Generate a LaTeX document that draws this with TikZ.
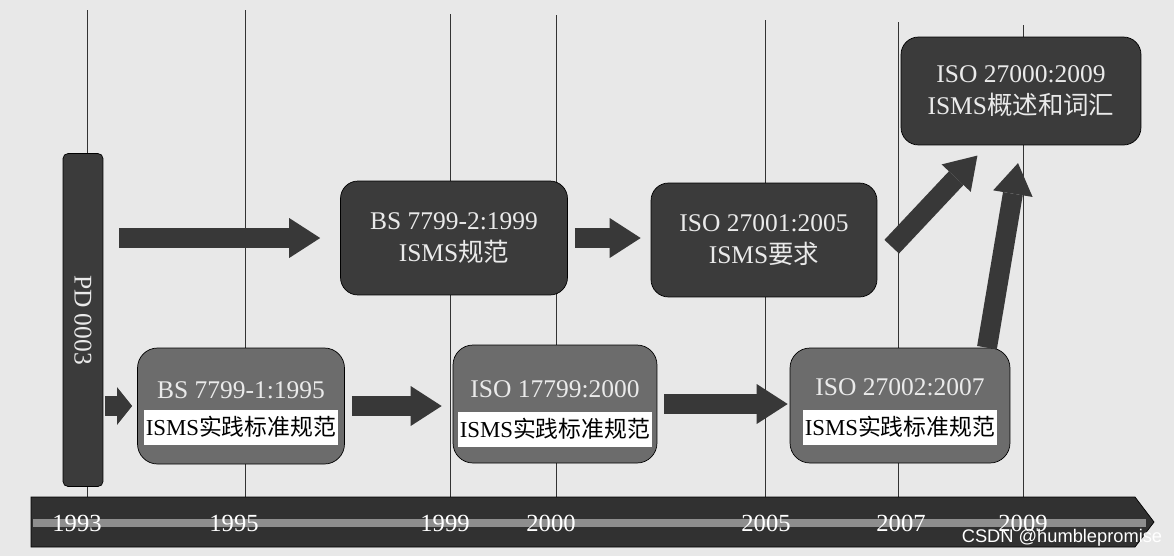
\documentclass[tikz,border=0pt]{standalone}
\usepackage{fontspec}
\setmainfont{Liberation Serif}
\setsansfont{Liberation Sans}
\newfontfamily\cjk{Noto Sans CJK SC}
\usetikzlibrary{arrows.meta}
\definecolor{pagegray}{HTML}{E8E8E8}
\definecolor{boxdark}{HTML}{3B3B3B}
\definecolor{boxmid}{HTML}{6C6C6C}
\definecolor{arrowdark}{HTML}{383838}
\definecolor{bardark}{HTML}{313131}
\definecolor{barstripe}{HTML}{8E8E8E}
\definecolor{paletext}{HTML}{EAEAEA}
\tikzset{
  darkbox/.style={draw=black,fill=boxdark,rounded corners=0.35cm,text=paletext,align=center,inner sep=0pt,font=\fontsize{14.5}{18.2}\selectfont},
  midbox/.style={draw=black,fill=boxmid,rounded corners=0.4cm,inner sep=0pt},
  midtitle/.style={text=paletext,inner sep=0pt,font=\fontsize{14.5}{18}\selectfont},
  whitestrip/.style={fill=white,inner sep=0pt,minimum width=3.9cm,minimum height=0.7cm,font=\fontsize{13}{16}\selectfont},
  blockarrow/.style={draw=arrowdark,line width=0.4cm,-{Triangle[length=0.62cm,width=0.8cm,line width=0pt]}},
  yearline/.style={draw=black!80,line width=0.5pt},
  yearlabel/.style={text=white,inner sep=0pt,font=\fontsize{14}{17}\selectfont}
}
\begin{document}
\begin{tikzpicture}[x=0.02cm,y=-0.02cm]
\useasboundingbox (0,0) rectangle (1174,556);
\fill[pagegray] (0,0) rectangle (1174,556);
% year lines
\draw[yearline] (87,10) -- (87,497);
\draw[yearline] (245,10) -- (245,497);
\draw[yearline] (450,14) -- (450,497);
\draw[yearline] (556,15) -- (556,497);
\draw[yearline] (765,20) -- (765,497);
\draw[yearline] (898,22) -- (898,497);
\draw[yearline] (1023,25) -- (1023,497);
% time bar
\draw[fill=bardark,draw=black] (31,497) -- (1135,497) -- (1154,522) -- (1135,547) -- (31,547) -- cycle;
\fill[barstripe] (33,518.5) rectangle (1146,526.5);
\node[yearlabel] (y1993) at (77,523) {1993};
\node[yearlabel] (y1995) at (234,523) {1995};
\node[yearlabel] (y1999) at (445,523) {1999};
\node[yearlabel] (y2000) at (551,523) {2000};
\node[yearlabel] (y2005) at (766,523) {2005};
\node[yearlabel] (y2007) at (901,523) {2007};
\node[yearlabel] (y2009) at (1023,523) {2009};
% boxes
\node[darkbox,rounded corners=0.1cm,rotate=-90,minimum width=6.66cm,minimum height=0.8cm] (pd) at (83,320) {PD 0003};
\node[darkbox,minimum width=4.54cm,minimum height=2.28cm] (bs2) at (454,238) {BS 7799-2:1999\\ISMS{\cjk 规范}};
\node[darkbox,minimum width=4.52cm,minimum height=2.28cm] (iso27001) at (764,240) {ISO 27001:2005\\ISMS{\cjk 要求}};
\node[darkbox,minimum width=4.8cm,minimum height=2.16cm] (iso27000) at (1021,91) {ISO 27000:2009\\ISMS{\cjk 概述和词汇}};
\node[midbox,minimum width=4.14cm,minimum height=2.32cm] (bs1) at (241,406) {};
\node[midtitle] (bs1title) at (241,390) {BS 7799-1:1995};
\node[whitestrip] (bs1strip) at (241,427) {ISMS{\cjk 实践标准规范}};
\node[midbox,minimum width=4.08cm,minimum height=2.36cm] (iso17799) at (555,404) {};
\node[midtitle] (iso17799title) at (555,389) {ISO 17799:2000};
\node[whitestrip] (iso17799strip) at (555,429) {ISMS{\cjk 实践标准规范}};
\node[midbox,minimum width=4.4cm,minimum height=2.3cm] (iso27002) at (900,405.5) {};
\node[midtitle] (iso27002title) at (900,387) {ISO 27002:2007};
\node[whitestrip] (iso27002strip) at (900,427) {ISMS{\cjk 实践标准规范}};
% arrows
\draw[blockarrow,-{Triangle[length=0.3cm,width=0.75cm,line width=0pt]},shorten <=0.04cm,shorten >=0.1cm] (pd.north |- bs1.west) -- (bs1.west);
\draw[blockarrow,shorten <=0.32cm,shorten >=0.4cm] (pd.north |- bs2.west) -- (bs2.west);
\draw[blockarrow,shorten <=0.14cm,shorten >=0.22cm] (bs1.east) -- (bs1.east -| iso17799.west);
\draw[blockarrow,shorten <=0.14cm,shorten >=0.04cm] (iso17799.east) -- (iso17799.east -| iso27002.west);
\draw[blockarrow,shorten <=0.14cm,shorten >=0.2cm] (bs2.east) -- (bs2.east -| iso27001.west);
\draw[blockarrow,shorten <=0.42cm,shorten >=0.28cm] ([yshift=-0.44cm]iso27001.east) -- ([xshift=-0.68cm]iso27000.south);
\draw[blockarrow,shorten >=0.36cm] ([xshift=1.74cm]iso27002.north) -- (iso27000.south);
\node[font=\sffamily\fontsize{10.4}{12}\selectfont,text=white,inner sep=0pt] (mark) at (1062,538) {CSDN @humblepromise};
\end{tikzpicture}
\end{document}
